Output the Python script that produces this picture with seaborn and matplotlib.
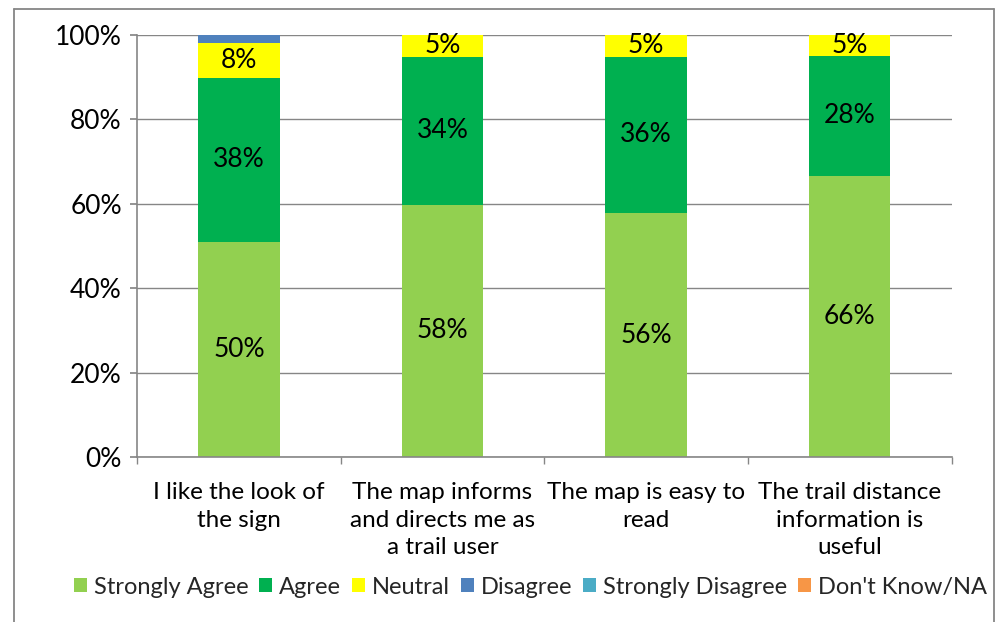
import numpy as np
import pandas as pd
import matplotlib
matplotlib.use("Agg")
import matplotlib.pyplot as plt
from matplotlib.lines import Line2D
from matplotlib.ticker import PercentFormatter
import seaborn as sns

categories = ["I like the look of\nthe sign",
              "The map informs\nand directs me as\na trail user",
              "The map is easy to\nread",
              "The trail distance\ninformation is\nuseful"]
series = ["Strongly Agree", "Agree", "Neutral", "Disagree",
          "Strongly Disagree", "Don't Know/NA"]
strongly_agree = [50, 58, 56, 66]
agree = [38, 34, 36, 28]
neutral = [8, 5, 5, 5]
disagree = [2, 0, 0, 0]
strongly_disagree = [0, 0, 0, 0]
dont_know = [0, 0, 0, 0]
colors = ["#92D050", "#00B050", "#FFFF00", "#4F81BD", "#4BACC6", "#F79646"]

values = np.array([strongly_agree, agree, neutral, disagree,
                   strongly_disagree, dont_know], dtype=float)
# 100% stacked: every column is scaled to its own total
pct = values / values.sum(axis=0) * 100

sns.set_theme(style="white")
plt.rcParams['font.family'] = ['Lato', 'DejaVu Sans']

fig = plt.figure(figsize=(10.08, 6.22), dpi=100)
ax = fig.add_axes([0.136, 0.265, 0.808, 0.679])

bottom = np.zeros(len(categories))
for i, name in enumerate(series):
    df = pd.DataFrame({"cat": categories, "pct": pct[i]})
    sns.barplot(data=df, x="cat", y="pct", bottom=bottom, color=colors[i],
                width=0.4, saturation=1, label=name, ax=ax, linewidth=0)
    labels = [f"{int(v)}%" if v >= 5 else "" for v in values[i]]
    ax.bar_label(ax.containers[-1], labels=labels, label_type="center",
                 fontsize=19, color="black")
    bottom += pct[i]

grey = "#868686"
ax.set_ylim(0, 100)
ax.set_xlim(-0.5, 3.5)
ax.set_yticks(np.arange(0, 101, 20))
ax.yaxis.set_major_formatter(PercentFormatter(decimals=0))
ax.yaxis.grid(True, color=grey, linewidth=1)
ax.set_axisbelow(True)
ax.set_xlabel("")
ax.set_ylabel("")
for s in ["top", "right"]:
    ax.spines[s].set_visible(False)
for s in ["left", "bottom"]:
    ax.spines[s].set_color(grey)
    ax.spines[s].set_linewidth(1.2)
ax.tick_params(axis="y", left=True, length=5, color=grey, labelsize=19,
               pad=6, labelcolor="black")
ax.set_xticks(range(len(categories)), labels=categories)
ax.tick_params(axis="x", which="major", bottom=False, labelsize=17.5, pad=12,
               labelcolor="black")
ax.set_xticks(np.arange(-0.5, 4, 1), minor=True)
ax.tick_params(axis="x", which="minor", bottom=True, length=5, color=grey)

if ax.get_legend():
    ax.get_legend().remove()
handles, labs = ax.get_legend_handles_labels()
fig.legend(handles, labs, loc="center", bbox_to_anchor=(0.526, 0.056),
           ncol=6, frameon=False, fontsize=17, handlelength=0.55,
           handleheight=0.55, handletextpad=0.3, columnspacing=0.45,
           borderaxespad=0)

# outer chart frame (open at the bottom)
W, H = 1008, 622
fx = [13.5 / W, 993.5 / W]
fy = [1 - 8.5 / H, 0]
fig.add_artist(Line2D([fx[0], fx[0]], [0, fy[0]], color=grey, lw=1.3))
fig.add_artist(Line2D([fx[1], fx[1]], [0, fy[0]], color=grey, lw=1.3))
fig.add_artist(Line2D([fx[0], fx[1]], [fy[0], fy[0]], color=grey, lw=1.3))

# ticks are built on draw, so set the wrapped label spacing afterwards
fig.canvas.draw()
for t in ax.get_xticklabels():
    t.set_linespacing(1.38)
    t.set_verticalalignment("top")

fig.savefig("out.png", dpi=100, facecolor="white")
